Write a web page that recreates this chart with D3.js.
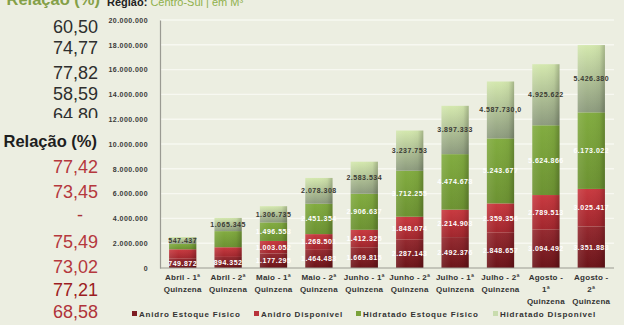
<!DOCTYPE html>
<html>
<head>
<meta charset="utf-8">
<script src="https://cdn.jsdelivr.net/npm/d3@7"></script>
<style>
  html, body { margin: 0; padding: 0; background: #eceee1; }
  svg { display: block; }
</style>
</head>
<body>
<svg id="chart" width="624" height="325"></svg>
<script>
// Fortnights (quinzenas) of the harvest
const categories = [
  "Abril - 1ª Quinzena", "Abril - 2ª Quinzena", "Maio - 1ª Quinzena", "Maio - 2ª Quinzena",
  "Junho - 1ª Quinzena", "Junho - 2ª Quinzena", "Julho - 1ª Quinzena", "Julho - 2ª Quinzena",
  "Agosto - 1ª Quinzena", "Agosto - 2ª Quinzena"
];
const categoryLines = [
  ["Abril - 1ª", "Quinzena"], ["Abril - 2ª", "Quinzena"], ["Maio - 1ª", "Quinzena"], ["Maio - 2ª", "Quinzena"],
  ["Junho - 1ª", "Quinzena"], ["Junho - 2ª", "Quinzena"], ["Julho - 1ª", "Quinzena"], ["Julho - 2ª", "Quinzena"],
  ["Agosto -", "1ª", "Quinzena"], ["Agosto -", "2ª", "Quinzena"]
];

// Stocks in m³ (Centro-Sul)
const seriesNames = ["Anidro Estoque Físico", "Anidro Disponível", "Hidratado Estoque Físico", "Hidratado Disponível"];
const anidroEstoque    = [749872, 894352, 1177295, 1464483, 1669815, 2287143, 2492376, 2848657, 3094492, 3351883];
const anidroDisp       = [760000, 780000, 1003052, 1268501, 1412325, 1848074, 2214903, 2359356, 2789513, 3025417];
const hidratadoEstoque = [440000, 1300000, 1496553, 2451354, 2906637, 3712255, 4474678, 5243677, 5624866, 6173022];
const hidratadoDisp    = [547437, 1065345, 1306735, 2078308, 2583534, 3237753, 3897333, 4587730, 4925622, 5426380];

// Segments whose value label is not shown: [category index, series index]
const hiddenLabels = [[0, 1], [0, 2], [1, 1], [1, 2]];
// Segments labelled with one decimal place
const decimalLabels = [[7, 3]];

const yTicks = [0, 2e6, 4e6, 6e6, 8e6, 10e6, 12e6, 14e6, 16e6, 18e6, 20e6];

// Relação (%) side columns
const relacaoHidratado = ["60,50", "74,77", "77,82", "58,59", "64,80"];
const relacaoAnidro = ["77,42", "73,45", "-", "75,49", "73,02", "77,21", "68,58"];

const svg = d3.select("#chart");
const W = 624, H = 325;
svg.append("rect").attr("width", W).attr("height", H).attr("fill", "#eceee1");

const br = d3.formatLocale({ decimal: ",", thousands: ".", grouping: [3], currency: ["R$", ""] });
const fmt0 = br.format(",.0f");
const fmt1 = br.format(",.1f");
const FONT = "Liberation Sans, Arial, sans-serif";

// ---- side text columns
const side = svg.append("g").attr("font-family", FONT);
const defs = svg.append("defs");
defs.append("clipPath").attr("id", "sideClip")
  .append("rect").attr("x", 0).attr("y", 0).attr("width", 110).attr("height", 118);

side.append("text").attr("x", 100).attr("y", 5).attr("text-anchor", "end")
  .attr("font-size", 16.5).attr("font-weight", "bold").attr("fill", "#84a048").text("Relação (%)");

const topYs = [33, 54, 79, 100, 121];
side.append("g").attr("clip-path", "url(#sideClip)").selectAll("text").data(relacaoHidratado).join("text")
  .attr("x", 98).attr("y", (d, i) => topYs[i]).attr("text-anchor", "end")
  .attr("font-size", 18).attr("fill", "#2e2e2e").text(d => d);

side.append("text").attr("x", 97).attr("y", 147).attr("text-anchor", "end")
  .attr("font-size", 16.5).attr("font-weight", "bold").attr("fill", "#1e1e1e").text("Relação (%)");

const botYs = [173, 198, 221, 248, 273, 296, 318];
const botCols = ["#b5383d", "#b5383d", "#a8323a", "#b5383d", "#b5383d", "#9c1c22", "#b0333a"];
side.selectAll("text.anidro").data(relacaoAnidro).join("text").attr("class", "anidro")
  .attr("x", d => d === "-" ? 80 : 98).attr("y", (d, i) => botYs[i])
  .attr("text-anchor", d => d === "-" ? "middle" : "end")
  .attr("font-size", 18).attr("fill", (d, i) => botCols[i]).text(d => d);

// ---- header
const head = svg.append("text").attr("x", 107).attr("y", 6).attr("font-family", FONT).attr("font-size", 11);
head.append("tspan").attr("font-weight", "bold").attr("fill", "#222").text("Região: ");
head.append("tspan").attr("fill", "#8fb04c").text("Centro-Sul | em M³");

// ---- chart
const x = d3.scaleBand().domain(categories).range([160, 614]).paddingInner(0.4).paddingOuter(0.2);
const y = d3.scaleLinear().domain([0, 20e6]).range([268, 20]);

const table = categories.map((c, i) => ({
  cat: c,
  [seriesNames[0]]: anidroEstoque[i],
  [seriesNames[1]]: anidroDisp[i],
  [seriesNames[2]]: hidratadoEstoque[i],
  [seriesNames[3]]: hidratadoDisp[i]
}));
const stacked = d3.stack().keys(seriesNames)(table);

const grads = [
  ["#952a30", "#6b1419"],
  ["#c93a40", "#a1262d"],
  ["#82ac40", "#6c9232"],
  ["#d4e8ae", "#8d9b7e"]
];
const legendColors = ["#7e1c22", "#b8323a", "#7aa23a", "#c9dcae"];
grads.forEach((g, k) => {
  const lg = defs.append("linearGradient").attr("id", "g" + k).attr("x1", 0).attr("y1", 0).attr("x2", 0).attr("y2", 1);
  lg.append("stop").attr("offset", "0%").attr("stop-color", g[0]);
  lg.append("stop").attr("offset", "100%").attr("stop-color", g[1]);
});
const shade = defs.append("linearGradient").attr("id", "shade").attr("x1", 0).attr("y1", 0).attr("x2", 1).attr("y2", 0);
shade.append("stop").attr("offset", "0%").attr("stop-color", "#fff").attr("stop-opacity", 0.10);
shade.append("stop").attr("offset", "35%").attr("stop-color", "#fff").attr("stop-opacity", 0);
shade.append("stop").attr("offset", "80%").attr("stop-color", "#000").attr("stop-opacity", 0.04);
shade.append("stop").attr("offset", "100%").attr("stop-color", "#000").attr("stop-opacity", 0.22);

// grid
svg.append("g").selectAll("line").data(yTicks.filter(t => t > 0)).join("line")
  .attr("x1", 160).attr("x2", 614).attr("y1", d => y(d)).attr("y2", d => y(d))
  .attr("stroke", "#f7f8f1").attr("stroke-width", 1.4);

// y axis
const yAxis = d3.axisLeft(y).tickValues(yTicks).tickSize(0).tickPadding(12).tickFormat(d => fmt0(d));
const ya = svg.append("g").attr("transform", "translate(160,0)").call(yAxis);
ya.select(".domain").attr("stroke", "#9a9a92").attr("stroke-width", 1.2);
ya.selectAll("text").attr("font-family", FONT).attr("font-size", 7)
  .attr("font-weight", "bold").attr("fill", "#3a3a3a").attr("letter-spacing", 0.45);

// bars
const barG = svg.append("g");
stacked.forEach((s, k) => {
  barG.append("g").selectAll("rect").data(s).join("rect")
    .attr("x", d => x(d.data.cat)).attr("width", x.bandwidth())
    .attr("y", d => y(d[1])).attr("height", d => y(d[0]) - y(d[1]))
    .attr("fill", "url(#g" + k + ")");
});
// cylinder shading over each whole bar
barG.append("g").selectAll("rect").data(stacked[stacked.length - 1]).join("rect")
  .attr("x", d => x(d.data.cat)).attr("width", x.bandwidth())
  .attr("y", d => y(d[1])).attr("height", d => y(0) - y(d[1]))
  .attr("fill", "url(#shade)");

// x axis line
svg.append("line").attr("x1", 160).attr("x2", 614).attr("y1", y(0)).attr("y2", y(0))
  .attr("stroke", "#9a9a92").attr("stroke-width", 1.2);

// value labels
const isIn = (list, i, k) => list.some(p => p[0] === i && p[1] === k);
const lab = svg.append("g").attr("font-family", FONT).attr("font-size", 7)
  .attr("font-weight", "bold").attr("letter-spacing", 0.5).attr("text-anchor", "middle");
stacked.forEach((s, k) => {
  lab.append("g").selectAll("text").data(s.map((d, i) => ({ d, i })).filter(o => !isIn(hiddenLabels, o.i, k)))
    .join("text")
    .attr("x", o => x(o.d.data.cat) + x.bandwidth() / 2)
    .attr("y", o => (y(o.d[0]) + y(o.d[1])) / 2 + 2.5)
    .attr("fill", k === 3 ? "#3a3a34" : "#ffffff")
    .text(o => (isIn(decimalLabels, o.i, k) ? fmt1 : fmt0)(o.d[1] - o.d[0]));
});

// category labels
const xl = svg.append("g").attr("font-family", FONT).attr("font-size", 8)
  .attr("font-weight", "bold").attr("fill", "#333").attr("text-anchor", "middle").attr("letter-spacing", 0.25);
categories.forEach((c, i) => {
  const cx = x(c) + x.bandwidth() / 2;
  const t = xl.append("text").attr("x", cx).attr("y", 280);
  categoryLines[i].forEach((line, j) => {
    t.append("tspan").attr("x", cx).attr("dy", j === 0 ? 0 : 12).text(line);
  });
});

// legend
const legendX = [132, 254, 356, 493];
const lgd = svg.append("g").attr("font-family", FONT).attr("font-size", 8)
  .attr("font-weight", "bold").attr("fill", "#333").attr("letter-spacing", 0.8);
seriesNames.forEach((n, k) => {
  lgd.append("rect").attr("x", legendX[k]).attr("y", 311).attr("width", 5).attr("height", 5).attr("fill", legendColors[k]);
  lgd.append("text").attr("x", legendX[k] + 7).attr("y", 317).text(n);
});
</script>
</body>
</html>
